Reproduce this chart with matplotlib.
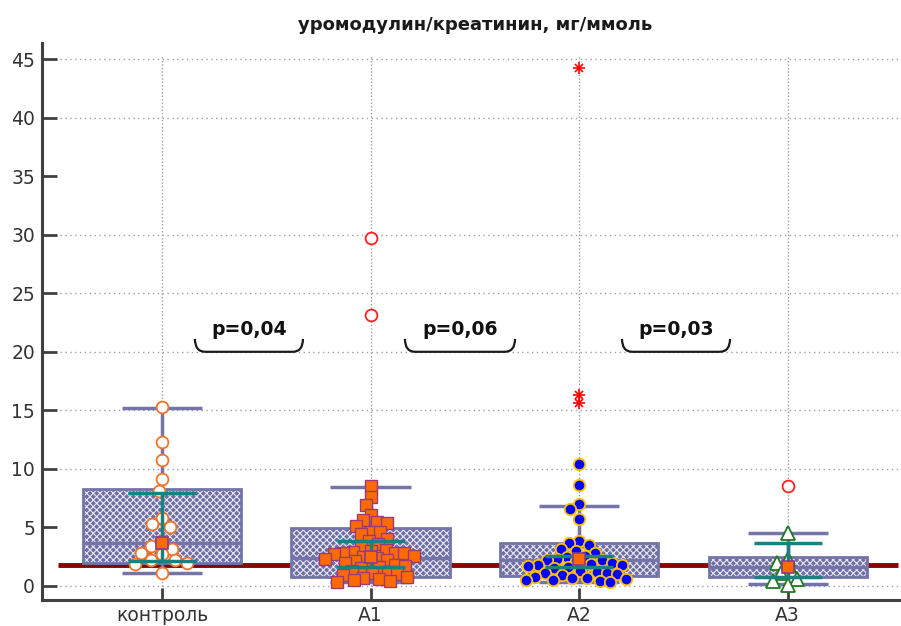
import numpy as np
import matplotlib
matplotlib.use('Agg')
import matplotlib.pyplot as plt
from matplotlib.path import Path
from matplotlib.patches import PathPatch, Rectangle

plt.rcParams['font.family'] = ['DejaVu Sans']
plt.rcParams['hatch.linewidth'] = 0.8

# ---------------- data ----------------
categories = ['контроль', 'A1', 'A2', 'A3']
box_q1 = [1.97, 0.77, 0.85, 0.80]
box_median = [3.65, 2.40, 2.20, 1.65]
box_q3 = [8.30, 4.97, 3.65, 2.45]
whisker_low = [1.10, 0.30, 0.37, 0.14]
whisker_high = [15.2, 8.45, 6.86, 4.55]
ci_low = [2.10, 1.60, 1.60, 0.74]
ci_high = [7.95, 3.85, 2.56, 3.65]
median_marker = [3.65, 2.45, 2.30, 1.60]
reference_level = 1.8

control_vals = [15.3, 12.3, 10.8, 9.1, 8.1, 5.8, 5.3, 5.0, 3.8, 3.4, 3.2, 2.8,
                2.7, 2.2, 2.2, 2.0, 1.9, 1.1]
a1_vals = [8.5, 7.6, 6.9, 6.1, 5.6, 5.5, 5.4, 5.1, 4.6, 4.6, 4.4, 4.0, 3.8, 3.6,
           3.3, 3.1, 3.0, 2.9, 2.8, 2.8, 2.8, 2.7, 2.6, 2.5, 2.4, 2.3, 2.2, 2.1,
           2.0, 1.9, 1.8, 1.7, 1.6, 1.5, 1.3, 1.2, 1.1, 1.0, 0.9, 0.8, 0.7, 0.6,
           0.5, 0.4, 0.3]
a2_vals = [10.4, 8.6, 7.0, 6.6, 5.7, 3.8, 3.7, 3.5, 3.2, 3.0, 2.8, 2.6, 2.5, 2.3,
           2.2, 2.2, 2.1, 2.0, 1.9, 1.8, 1.8, 1.7, 1.6, 1.5, 1.3, 1.2, 1.1, 1.1,
           1.0, 0.9, 0.8, 0.7, 0.7, 0.6, 0.5, 0.5, 0.4, 0.3]
a3_vals = [4.5, 2.3, 2.0, 1.4, 1.1, 0.6, 0.4, 0.1]

a1_outliers = [29.7, 23.1]
a2_far_outliers = [44.2, 16.3, 15.6]
a3_outliers = [8.5]

p_labels = ['p=0,04', 'p=0,06', 'p=0,03']
y_ticks = [0, 5, 10, 15, 20, 25, 30, 35, 40, 45]
grid_levels = [0, 10, 15, 20, 25, 30, 40, 45]

# ---------------- layout ----------------
W, H = 901, 626
fig = plt.figure(figsize=(W / 100, H / 100), dpi=100)
ax = fig.add_axes([42 / W, 26 / H, (W - 42) / W, (600 - 43) / H])
ax.set_xlim(-0.5755, 3.544)
ax.set_ylim(-1.196, 46.37)
xpos = np.arange(len(categories))

BOX_FACE = '#6E6EA2'
BOX_EDGE = '#7474A8'
TEAL = '#1A8080'
GRID = '#A0A0A0'

# grid
ax.hlines(grid_levels, -0.49, 3.544, colors=GRID, linestyles=(0, (1, 2.5)), lw=1, zorder=0)
ax.vlines(xpos, -1.196, 45.3, colors=GRID, linestyles=(0, (1, 1.5)), lw=1, zorder=0)

# reference line
ax.hlines(reference_level, -0.5, 3.53, colors='#8B0000', lw=3.5, zorder=1)

bw = 0.379
cap = 0.192
ccap = 0.163
for i in range(len(categories)):
    ax.vlines(xpos[i], box_q3[i], whisker_high[i], colors=BOX_EDGE, lw=2.5, zorder=2)
    ax.vlines(xpos[i], whisker_low[i], box_q1[i], colors=BOX_EDGE, lw=2.5, zorder=2)
    ax.hlines([whisker_low[i], whisker_high[i]], xpos[i] - cap, xpos[i] + cap,
              colors=BOX_EDGE, lw=2.5, zorder=2)
    r = Rectangle((xpos[i] - bw, box_q1[i]), 2 * bw, box_q3[i] - box_q1[i],
                  facecolor=BOX_FACE, edgecolor='#E8E8F4', hatch='xxxxx', lw=0, zorder=3)
    ax.add_patch(r)
    r2 = Rectangle((xpos[i] - bw, box_q1[i]), 2 * bw, box_q3[i] - box_q1[i],
                   facecolor='none', edgecolor=BOX_EDGE, lw=2, zorder=3)
    ax.add_patch(r2)
    ax.hlines(box_median[i], xpos[i] - bw, xpos[i] + bw, colors=BOX_EDGE, lw=2.5, zorder=3)


def swarm(values, center, diam_px):
    pts = ax.transData.transform(np.column_stack([np.full(len(values), center),
                                                  np.asarray(values, float)]))
    cx = pts[0, 0]
    cands = sorted(np.arange(-150, 150.5, 0.5), key=abs)
    placed = []
    xs = []
    for y in pts[:, 1]:
        near = [(px, py) for px, py in placed if abs(py - y) < diam_px]
        best = 0.0
        for off in cands:
            if all((off - px) ** 2 + (y - py) ** 2 >= diam_px ** 2 for px, py in near):
                best = off
                break
        placed.append((best, y))
        xs.append(cx + best)
    data = ax.transData.inverted().transform(np.column_stack([xs, pts[:, 1]]))
    return data[:, 0]


# points
xc = swarm(control_vals, xpos[0], 12)
ax.plot(xc, control_vals, 'o', ms=8.5, mfc='white', mec='#F07428', mew=1.3, zorder=4, ls='none')
x1 = swarm(a1_vals, xpos[1], 9.5)
ax.plot(x1, a1_vals, 's', ms=8.5, mfc='#FF6A00', mec='#9A3A7A', mew=1.0, zorder=4, ls='none')
x2 = swarm(a2_vals, xpos[2], 10)
ax.plot(x2, a2_vals, 'o', ms=8.2, mfc='#0000FF', mec='#FFC000', mew=1.3, zorder=4, ls='none')
x3 = swarm(a3_vals, xpos[3], 11)
ax.plot(x3, a3_vals, '^', ms=9.5, mfc='white', mec='#1E7A1E', mew=1.3, zorder=4, ls='none')

# outliers
ax.plot([xpos[1]] * len(a1_outliers), a1_outliers, 'o', ms=8.5, mfc='white', mec='#FF2020',
        mew=1.3, ls='none', zorder=4)
ax.plot([xpos[3]] * len(a3_outliers), a3_outliers, 'o', ms=8.5, mfc='white', mec='#FF2020',
        mew=1.3, ls='none', zorder=4)
ax.plot([xpos[2]] * len(a2_far_outliers), a2_far_outliers, '+', ms=8, color='#FF0000',
        mew=1.2, ls='none', zorder=4)
ax.plot([xpos[2]] * len(a2_far_outliers), a2_far_outliers, 'x', ms=6, color='#FF0000',
        mew=1.2, ls='none', zorder=4)

# CI (teal)
for i in range(len(categories)):
    ax.vlines(xpos[i], ci_low[i], ci_high[i], colors=TEAL, lw=2.5, zorder=5)
    ax.hlines([ci_low[i], ci_high[i]], xpos[i] - ccap, xpos[i] + ccap, colors=TEAL, lw=2.5, zorder=5)
ax.plot(xpos, median_marker, 's', ms=9, mfc='#FF6A00', mec='#8A3A8A', mew=1.2, ls='none', zorder=6)

# p-value brackets
brackets = [(0.158, 0.676), (1.165, 1.693), (2.206, 2.724)]
ybot, ytop, rx = 20.0, 21.1, 0.05
for (a, b), lab in zip(brackets, p_labels):
    verts = [(a, ytop), (a, ybot), (a + rx, ybot), (b - rx, ybot), (b, ybot), (b, ytop)]
    codes = [Path.MOVETO, Path.CURVE3, Path.CURVE3, Path.LINETO, Path.CURVE3, Path.CURVE3]
    ax.add_patch(PathPatch(Path(verts, codes), fill=False, lw=1.6, ec='#1A1A1A', zorder=6))
    ax.text((a + b) / 2, 21.4, lab, ha='center', va='baseline', fontsize=13.6,
            fontweight='bold', color='#111111', zorder=7)

# axes styling
for s in ['top', 'right']:
    ax.spines[s].set_visible(False)
for s in ['left', 'bottom']:
    ax.spines[s].set_color('#404040')
    ax.spines[s].set_linewidth(2.2)
ax.set_yticks(y_ticks)
ax.set_yticklabels([str(t) for t in y_ticks])
ax.set_xticks(xpos)
ax.set_xticklabels(categories)
ax.tick_params(axis='y', direction='in', length=11, width=2, color='#404040',
               labelsize=13.5, labelcolor='#333333', pad=5)
ax.tick_params(axis='x', direction='in', length=9, width=2, color='#404040',
               labelsize=13.5, labelcolor='#333333', pad=4)

fig.text(475 / W, 1 - 25 / H, 'уромодулин/креатинин, мг/ммоль', ha='center', va='center',
         fontsize=13, fontweight='bold', color='#1A1A1A')

fig.savefig('out.png', dpi=100)
